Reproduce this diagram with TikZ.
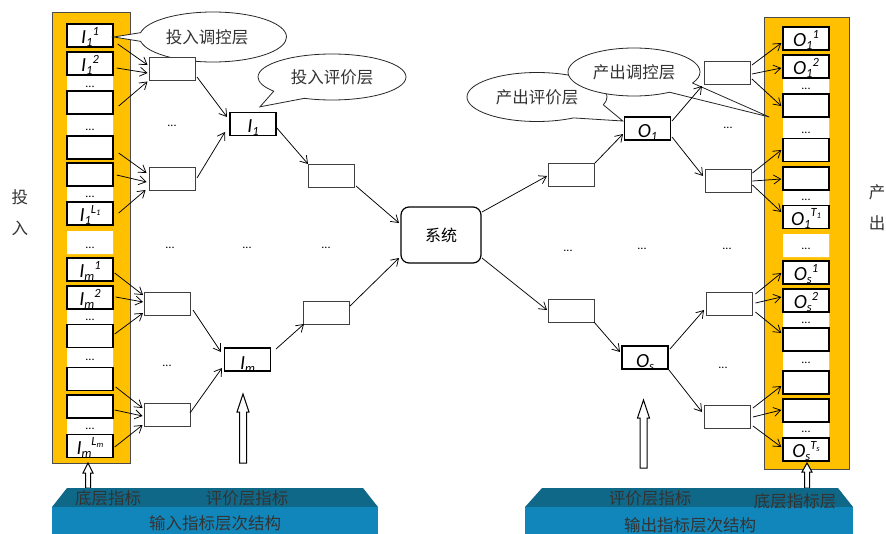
\documentclass[tikz,border=0pt]{standalone}
\usepackage{fontspec}
\setmainfont{Carlito}
\newfontfamily\cjk{Noto Sans CJK SC}
\usetikzlibrary{arrows.meta,shapes.callouts,shapes.geometric}
\definecolor{gold}{RGB}{255,192,0}
\definecolor{bantop}{RGB}{16,104,136}
\definecolor{banfront}{RGB}{16,134,186}
\pgfdeclarelayer{colL}
\pgfdeclarelayer{bubL}
\pgfsetlayers{colL,bubL,main}
\newcommand\msz{\fontsize{20}{20}\selectfont}
\newcommand\ssz{\fontsize{12.5}{12.5}\selectfont}
\newcommand\tsz{\fontsize{8.5}{8.5}\selectfont}
\newcommand\clab[3]{{\msz\itshape #1}\raisebox{-3pt}{\ssz\itshape #2}\raisebox{8.5pt}{\ssz\itshape #3}}
\newcommand\clabt[2]{{\msz\itshape #1}\raisebox{-3pt}{\ssz\itshape #2}}
\newcommand\subx[2]{#1\raisebox{-2pt}{\tsz #2}}
\newcommand\conn[4]{\draw[arr] ([shift={(#2)}]#1) -- ([shift={(#4)}]#3);}
\begin{document}
\begin{tikzpicture}[x=1pt,y=-1pt,
 colbox/.style={draw=black, line width=1.4pt, fill=white, minimum width=46pt, minimum height=23pt, inner sep=0pt, text height=16pt, text depth=0pt},
 midbox/.style={draw=black!75, line width=0.9pt, fill=white, minimum width=46pt, minimum height=23pt, inner sep=0pt},
 keybox/.style={draw=black, line width=1.4pt, fill=white, minimum width=46pt, minimum height=23pt, inner sep=0pt, text depth=0pt},
 sysbox/.style={draw=black, line width=1.2pt, rounded corners=8pt, fill=white, minimum width=80pt, minimum height=56pt, inner sep=0pt, font=\cjk\fontsize{16}{16}\selectfont},
 arr/.style={line width=0.75pt, -{Straight Barb[length=7pt,width=9pt]}},
 bub/.style={ellipse callout, draw=black!85, line width=0.8pt, fill=white, inner sep=0pt, font=\cjk\fontsize{16.5}{16.5}\selectfont, text=black!80},
 dotn/.style={inner sep=0pt, anchor=base, font=\fontsize{12}{12}\selectfont},
 cj/.style={inner sep=0pt, font=\cjk\fontsize{16.5}{16.5}\selectfont, text=black!80},
 hollow/.style={draw=black, fill=white, line width=1pt, line join=miter}
]
\useasboundingbox (0,0) rectangle (886,533);
\clip (0,0) rectangle (886,533);

\begin{pgfonlayer}{colL}
% left column
\filldraw[fill=gold, draw=black!70, line width=0.8pt] (52,12) rectangle (130,463);
\fill[white] (67,75) rectangle (113,91) (67,114) rectangle (113,136) (67,186) rectangle (113,202)
  (67,231) rectangle (113,254) (67,309) rectangle (113,324) (67,348) rectangle (113,367) (67,418) rectangle (113,434);
\node[colbox] (L1) at (90,35.5) {\clab{I}{1}{1}};
\node[colbox] (L2) at (90,63.5) {\clab{I}{1}{2}};
\node[colbox] (L3) at (90,102.5) {};
\node[colbox] (L4) at (90,147.5) {};
\node[colbox] (L5) at (90,174.5) {};
\node[colbox] (L6) at (90,213.5) {\clab{I}{1}{\subx{L}{1}}};
\node[colbox] (L7) at (90,269.5) {\clab{I}{m}{1}};
\node[colbox] (L8) at (90,297.5) {\clab{I}{m}{2}};
\node[colbox] (L9) at (90,336) {};
\node[colbox] (L10) at (90,379) {};
\node[colbox] (L11) at (90,406.5) {};
\node[colbox] (L12) at (90,446) {\clab{I}{m}{\subx{L}{m}}};
% right column
\filldraw[fill=gold, draw=black!70, line width=0.8pt] (764,17) rectangle (849,469);
\fill[white] (783,78) rectangle (829,94) (783,117) rectangle (829,138) (783,190) rectangle (829,206)
  (783,234) rectangle (829,257) (783,312) rectangle (829,328) (783,351) rectangle (829,371) (783,422) rectangle (829,438);
\node[colbox] (R1) at (806,38.5) {\clab{O}{1}{1}};
\node[colbox] (R2) at (806,66.5) {\clab{O}{1}{2}};
\node[colbox] (R3) at (806,105.5) {};
\node[colbox] (R4) at (806,150) {};
\node[colbox] (R5) at (806,178.5) {};
\node[colbox] (R6) at (806,217) {\clab{O}{1}{\subx{T}{1}}};
\node[colbox] (R7) at (806,272.5) {\clab{O}{s}{1}};
\node[colbox] (R8) at (806,300.5) {\clab{O}{s}{2}};
\node[colbox] (R9) at (806,339.5) {};
\node[colbox] (R10) at (806,382.5) {};
\node[colbox] (R11) at (806,410.5) {};
\node[colbox] (R12) at (806,449.5) {\clab{O}{s}{\subx{T}{s}}};
\end{pgfonlayer}

% middle boxes
\node[midbox] (A1) at (172,68.5) {};
\node[midbox] (A2) at (172,178.5) {};
\node[midbox] (A3) at (167.5,304) {};
\node[midbox] (A4) at (167,415) {};
\node[midbox] (B1) at (331.5,175.5) {};
\node[midbox] (B2) at (326,312.5) {};
\node[midbox] (C1) at (571.5,175) {};
\node[midbox] (C2) at (571.5,310.5) {};
\node[midbox] (D1) at (727.5,73) {};
\node[midbox] (D2) at (728,180.5) {};
\node[midbox] (D3) at (729,304) {};
\node[midbox] (D4) at (727.5,416.5) {};
\node[keybox, text height=16pt] (P1) at (253,124) {\clabt{I}{1}};
\node[keybox, text height=19pt] (Pm) at (247.5,359.5) {\clabt{I}{m}};
\node[keybox, text height=17pt] (Q1) at (647.5,128.5) {\clabt{O}{1}};
\node[keybox, text height=20pt] (Qs) at (645,357.5) {\clabt{O}{s}};
\node[sysbox] (S) at (441,235) {系统};

% callouts
\begin{pgfonlayer}{bubL}
\node[bub, minimum width=148pt, minimum height=46pt, callout pointer arc=30,
  callout absolute pointer={([shift={(7,-5)}]P1.north)}] (cb2) at (332,77) {投入评价层};
\node[bub, minimum width=147pt, minimum height=50pt, callout pointer arc=20,
  callout absolute pointer={([shift={(0,1.5)}]L1.east)}] (cb1) at (213,37) {投入调控层\hspace*{12pt}};
\node[bub, minimum width=140pt, minimum height=49pt, callout pointer arc=40,
  callout absolute pointer={([shift={(-1,-7.5)}]Q1.west)}] (cb4) at (537,97) {产出评价层};
\node[bub, minimum width=132pt, minimum height=48pt, callout pointer arc=30,
  callout absolute pointer={([shift={(-13,11.5)}]R3.west)}] (cb3) at (634,72) {产出调控层};
\end{pgfonlayer}

% left arrows
\conn{L1.east}{4,8.5}{A1.west}{-1,-3.5}
\conn{L2.east}{3,4.5}{A1.west}{-1,4.5}
\conn{L3.east}{5,3.5}{A1.west}{-1,13}
\conn{L4.east}{5,5.5}{A2.west}{-2,-5.5}
\conn{L5.east}{3,0.5}{A2.west}{-2,3.5}
\conn{L6.east}{5,-0.5}{A2.west}{-3,11.5}
\conn{L7.east}{1,3.5}{A3.west}{-1,-9}
\conn{L8.east}{2,-0.5}{A3.west}{-1,-2}
\conn{L9.east}{1,-2}{A3.west}{-1,9}
\conn{L10.east}{2,8}{A4.west}{-1,-7}
\conn{L11.east}{1,3.5}{A4.west}{-1,1}
\conn{L12.east}{1,1}{A4.west}{-1,10}
% middle arrows
\conn{A1.center}{25,8.5}{P1.center}{-26,-7}
\conn{A2.center}{25,-0.5}{P1.center}{-28,8}
\conn{A3.center}{25.5,6}{Pm.center}{-26.5,-7.5}
\conn{A4.center}{23,-2}{Pm.center}{-25.5,8.5}
\conn{P1.center}{23,3}{B1.center}{-23.5,-11.5}
\conn{Pm.center}{28.5,-10.5}{B2.center}{-22,11.5}
\conn{B1.center}{24.5,10.5}{S.center}{-42,-12}
\conn{B2.center}{24,-6.5}{S.center}{-42,23}
\conn{S.center}{41,-23}{C1.center}{-24.5,1}
\conn{S.center}{41,23}{C2.center}{-24.5,-0.5}
\conn{C1.center}{23.5,-12}{Q1.center}{-24.5,5.5}
\conn{C2.center}{22.5,11.5}{Qs.center}{-25,-5.5}
\conn{Q1.center}{24.5,-7.5}{D1.center}{-25.5,13}
\conn{Q1.center}{24.5,8.5}{D2.center}{-25,-4.5}
\conn{Qs.center}{25,-8.5}{D3.center}{-25,6}
\conn{Qs.center}{24,12.5}{D4.center}{-25.5,-4.5}
% right arrows
\conn{D1.east}{1,-8}{R1.west}{-1,4.5}
\conn{D1.east}{1,1}{R2.west}{-1,1.5}
\conn{D1.east}{1,6}{R3.west}{-1,0.5}
\conn{D2.east}{1,-7.5}{R4.west}{-1,0}
\conn{D2.east}{1,0.5}{R5.west}{-1,0.5}
\conn{D2.east}{1,4.5}{R6.west}{-1,-5}
\conn{D3.east}{3,-10}{R7.west}{-1,0.5}
\conn{D3.east}{3,-1}{R8.west}{-1,-3.5}
\conn{D3.east}{3,8}{R9.west}{-1,-6.5}
\conn{D4.east}{2,-8.5}{R10.west}{-1,3.5}
\conn{D4.east}{2,0.5}{R11.west}{-1,-0.5}
\conn{D4.east}{2,9.5}{R12.west}{-1,-2.5}

% dots in columns
\node[dotn] (dl1) at (90,87) {...};
\node[dotn] (dl2) at (90,130) {...};
\node[dotn] (dl3) at (90,197) {...};
\node[dotn] (dl4) at (90,248) {...};
\node[dotn] (dl5) at (90,320) {...};
\node[dotn] (dl6) at (90,360) {...};
\node[dotn] (dl7) at (90,429) {...};
\node[dotn] (dr1) at (806,89) {...};
\node[dotn] (dr2) at (806,133) {...};
\node[dotn] (dr3) at (806,200) {...};
\node[dotn] (dr4) at (806,249) {...};
\node[dotn] (dr5) at (806,323) {...};
\node[dotn] (dr6) at (806,363) {...};
\node[dotn] (dr7) at (806,432) {...};
% dots in the field
\node[dotn] (dm1) at (172,126) {...};
\node[dotn] (dm2) at (170,248) {...};
\node[dotn] (dm3) at (247,248) {...};
\node[dotn] (dm4) at (326,248) {...};
\node[dotn] (dm5) at (167,366) {...};
\node[dotn] (dm6) at (728,128) {...};
\node[dotn] (dm7) at (568,251) {...};
\node[dotn] (dm8) at (642,249) {...};
\node[dotn] (dm9) at (727,249) {...};
\node[dotn] (dm10) at (723,368) {...};

% side labels
\node[cj] (tou) at (20,197) {投};
\node[cj] (ru) at (20,228) {入};
\node[cj] (chan) at (877,192) {产};
\node[cj] (chu) at (877,223) {出};

% hollow arrows
\draw[hollow] (243,394) -- (249,412) -- (246.5,412) -- (246.5,463) -- (239.5,463) -- (239.5,412) -- (237,412) -- cycle;
\draw[hollow] (643.5,400) -- (649.5,418) -- (647,418) -- (647,468) -- (640,468) -- (640,418) -- (637.5,418) -- cycle;
\draw[hollow] (88,463) -- (93,473) -- (90.5,473) -- (90.5,488) -- (85.5,488) -- (85.5,473) -- (83,473) -- cycle;
\draw[hollow] (807,463) -- (812,472) -- (809.5,472) -- (809.5,488) -- (804.5,488) -- (804.5,472) -- (802,472) -- cycle;

% banners
\fill[bantop] (52,507) -- (67,488) -- (363,488) -- (378,507) -- cycle;
\fill[banfront] (52,507) rectangle (378,540);
\fill[bantop] (525,507) -- (542,488) -- (838,488) -- (853,507) -- cycle;
\fill[banfront] (525,507) rectangle (853,540);
\node[cj] (b1) at (108,498) {底层指标};
\node[cj] (b2) at (247,498) {评价层指标};
\node[cj] (b3) at (215,523) {输入指标层次结构};
\node[cj] (b4) at (650,498) {评价层指标};
\node[cj] (b5) at (795,501) {底层指标层};
\node[cj] (b6) at (690,525) {输出指标层次结构};
\end{tikzpicture}
\end{document}
